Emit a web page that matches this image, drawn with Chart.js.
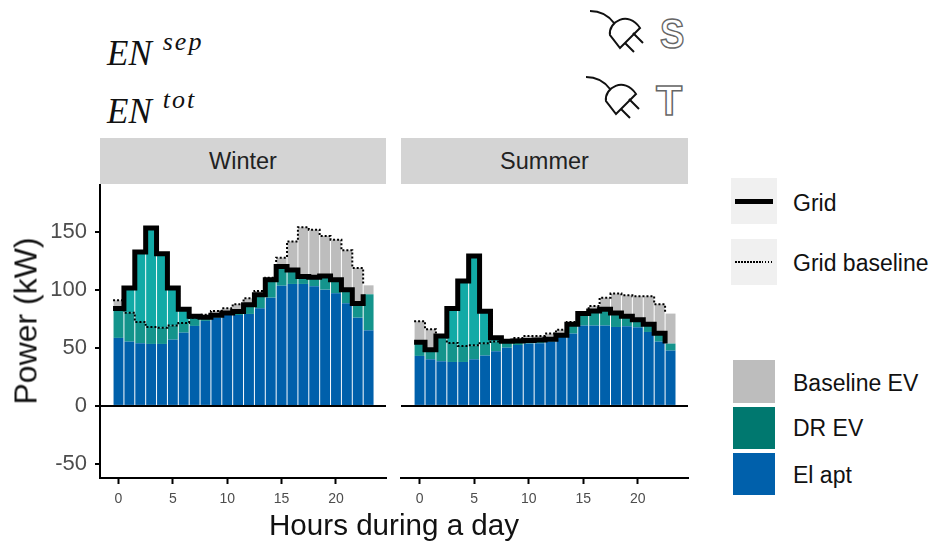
<!DOCTYPE html>
<html>
<head>
<meta charset="utf-8">
<script src="https://cdn.jsdelivr.net/npm/chart.js@4"></script>
<style>
  html, body { margin: 0; padding: 0; background: #fff; }
  #page { position: relative; width: 929px; height: 543px; overflow: hidden; font-family: "Liberation Sans", Arial, sans-serif; color: #111; }
  #page canvas { position: absolute; }
  .strip { position: absolute; top: 138px; height: 46px; line-height: 46px; background: #d4d4d4; text-align: center; font-size: 23.5px; color: #222; }
  .label { position: absolute; white-space: nowrap; font-size: 23px; transform: translateY(-50%); }
  .key { position: absolute; }
  .en { position: absolute; font-family: "Liberation Serif", serif; font-style: italic; font-size: 35px; color: #111; white-space: nowrap; }
  .en sup { font-size: 26px; letter-spacing: 2px; position: relative; top: -7px; vertical-align: top; margin-left: 11px; line-height: 30px; }
  .outline { position: absolute; font-family: "Liberation Sans", sans-serif; font-size: 43px; color: #fff; -webkit-text-stroke: 1.5px #666; font-weight: bold; transform-origin: left top; }
  .ytitle { position: absolute; left: 26px; top: 321px; font-size: 32px; white-space: nowrap; transform: translate(-50%, -50%) rotate(-90deg); }
</style>
</head>
<body>
<div id="page">
  <div class="en" style="left:107px;top:34px">EN<sup>sep</sup></div>
  <div class="en" style="left:107px;top:92px">EN<sup>tot</sup></div>

  <svg style="position:absolute;left:0;top:0" width="929" height="140" fill="none" stroke="#111" stroke-width="2">
    <g id="plug">
      <path d="M590 11 C600 11 608 15 614 23"/>
      <path d="M640 28 L620 48 L610 35 C608 22 628 10 640 28 Z"/>
      <path d="M633 33 L643 43 M625 43 L634 52"/>
    </g>
    <use href="#plug" x="-4" y="66"/>
  </svg>
  <div class="outline" style="left:660px;top:9px;transform:scaleX(.85)">S</div>
  <div class="outline" style="left:656px;top:76px">T</div>

  <div class="strip" style="left:100px;width:286px">Winter</div>
  <div class="strip" style="left:401px;width:287px">Summer</div>

  <canvas id="winterChart" width="390" height="370" style="left:0;top:140px"></canvas>
  <canvas id="summerChart" width="296" height="370" style="left:396px;top:140px"></canvas>

  <div class="ytitle">Power (kW)</div>
  <div class="label" style="left:269px;top:525px;font-size:29.6px">Hours during a day</div>

  <div class="key" style="left:731px;top:178px;width:46px;height:46px;background:#f0f0f0"></div>
  <div class="key" style="left:735px;top:199px;width:38px;height:5px;background:#000"></div>
  <div class="label" style="left:793px;top:203px">Grid</div>
  <div class="key" style="left:731px;top:239px;width:46px;height:46px;background:#f0f0f0"></div>
  <div class="key" style="left:735px;top:261px;width:38px;height:2px;background:repeating-linear-gradient(90deg,#000 0,#000 1.5px,transparent 1.5px,transparent 3px)"></div>
  <div class="label" style="left:793px;top:263px">Grid baseline</div>

  <div class="key" style="left:733px;top:360px;width:42px;height:43px;background:#bdbdbd"></div>
  <div class="label" style="left:793px;top:383px">Baseline EV</div>
  <div class="key" style="left:733px;top:407px;width:42px;height:42px;background:#00786f"></div>
  <div class="label" style="left:793px;top:428px">DR EV</div>
  <div class="key" style="left:733px;top:453px;width:42px;height:42px;background:#0060ab"></div>
  <div class="label" style="left:793px;top:475px">El apt</div>
</div>

<script>
// values, kW per hour
const hours = [0, 1, 2, 3, 4, 5, 6, 7, 8, 9, 10, 11, 12, 13, 14, 15, 16, 17, 18, 19, 20, 21, 22, 23];
const xTicks = [0, 5, 10, 15, 20];
const yTicks = [-50, 0, 50, 100, 150];

const winterElApt = [58.5, 55.3, 53.9, 53.3, 53.3, 57, 63, 68.8, 73.1, 75.9, 78.2, 78.2, 79.1, 84, 93.1, 103.4, 104.9, 104.9, 102.9, 100, 96.8, 88.3, 75.9, 65];
const winterDrEv = [25.2, 24.9, 18.3, 14.6, 14, 12.1, 8.3, 7.1, 3.1, 2, 1.7, 2.9, 8, 11.7, 15.5, 16.4, 12, 6.3, 7.7, 11.7, 11.8, 11.7, 12.1, 31];
const winterDrShift = [0, 21.2, 60.2, 85.1, 63.6, 32.3, 11.8, 1.2, 0, 0, 0, 0, 0, 0, 0, 0, 0, 0, 0, 0, 0, 0, 0, 0];
const winterBaselineEv = [7.1, 0, 0, 0, 0, 0, 0, 0, 2.3, 3.8, 4.1, 6.3, 5.4, 3.2, 1.7, 7.7, 24.6, 42.4, 41, 34.4, 34.4, 33.8, 30.6, 7.7];
const winterGrid = [83.7, 101.4, 132.4, 153, 130.9, 101.4, 83.1, 77.1, 76.2, 77.9, 79.9, 81.1, 87.1, 95.7, 108.6, 119.8, 116.9, 111.2, 110.6, 111.7, 108.6, 100, 88, 96];
const winterGridBaseline = [90.8, 80.2, 72.2, 67.9, 67.3, 69.1, 71.3, 75.9, 78.5, 81.7, 84, 87.4, 92.5, 98.9, 110.3, 127.5, 141.5, 153.6, 151.6, 146.1, 143, 133.8, 118.6, 103.7];

const summerElApt = [43, 40.1, 38.4, 37.8, 37.8, 40.1, 43.3, 47, 50.1, 52.4, 53.6, 53.9, 55.3, 59.9, 62.2, 69.1, 69.1, 69.1, 67.9, 68.5, 67.6, 63.6, 55.3, 47.6];
const summerDrEv = [11.7, 8.3, 20.9, 16.4, 13.8, 12, 10.6, 8.3, 5.5, 3.5, 2.6, 2.8, 2, 0.8, 8, 10.3, 12.6, 14, 12, 8.6, 6.6, 6.6, 7.2, 6];
const summerDrShift = [0, 0, 0.9, 29.5, 55.8, 76.8, 27.5, 3.4, 0, 0, 0, 0, 0, 0, 0, 0, 0, 0, 0, 0, 0, 0, 0, 0];
const summerBaselineEv = [18.1, 17.5, 0, 0, 0, 0, 0, 0, 0.6, 2.6, 4, 3.5, 4.9, 4.9, 2, 1.4, 4.3, 10, 16.7, 18, 20.1, 24.1, 24.9, 25.8];
const summerGrid = [54.7, 48.4, 60.2, 83.7, 107.4, 128.9, 81.4, 58.7, 55.6, 55.9, 56.2, 56.7, 57.3, 60.7, 70.2, 79.4, 81.7, 83.1, 79.9, 77.1, 74.2, 70.2, 62.5, 53.6];
const summerGridBaseline = [72.8, 65.9, 59.3, 54.2, 51.6, 52.1, 53.9, 55.3, 56.2, 58.5, 60.2, 60.2, 62.2, 65.6, 72.2, 80.8, 86, 93.1, 96.6, 95.1, 94.3, 94.3, 87.4, 79.4];

const tickGrey = '#4d4d4d';

function barSet(label, values, color) {
    return {
        type: 'bar',
        label: label,
        data: hours.map((h, i) => ({ x: h, y: values[i] })),
        backgroundColor: color,
        stack: 'power',
        order: 2,
        categoryPercentage: 1,
        barPercentage: 0.91
    };
}

function lineSet(label, values, width, dash) {
    return {
        type: 'line',
        label: label,
        // the step lines start half an hour before each bar centre
        data: hours.map((h, i) => ({ x: h - 0.5, y: values[i] })),
        borderColor: '#000',
        borderWidth: width,
        borderDash: dash,
        stepped: 'before',
        pointRadius: 0,
        fill: false,
        stack: label,
        order: 1,
        borderJoinStyle: 'miter'
    };
}

function makePanel(id, series, showY) {
    return new Chart(document.getElementById(id), {
        data: {
            datasets: [
                lineSet('Grid', series.grid, 5, []),
                lineSet('Grid baseline', series.baseline, 2, [2, 2]),
                barSet('El apt', series.elApt, '#0060ab'),
                barSet('DR EV', series.drEv, '#14948c'),
                barSet('DR EV shifted', series.drShift, '#12aaa6'),
                barSet('Baseline EV', series.baselineEv, '#bdbdbd')
            ]
        },
        options: {
            responsive: false,
            animation: false,
            // top padding is bigger than the tick label overflow so the plot top stays at y=185
            layout: { padding: { top: 45, right: 4, left: 0, bottom: 0 } },
            plugins: { legend: { display: false }, tooltip: { enabled: false } },
            scales: {
                x: {
                    type: 'linear',
                    stacked: true,
                    offset: false,
                    min: -1.7,
                    max: 24.6,
                    afterBuildTicks: function(scale) { scale.ticks = xTicks.map(v => ({ value: v })); },
                    afterFit: function(scale) { scale.height = 32; },
                    border: { display: true, color: '#000', width: 2 },
                    grid: { offset: false, drawOnChartArea: false, tickLength: 6, tickColor: '#000', tickWidth: 2 },
                    ticks: { color: tickGrey, font: { family: 'Liberation Sans', size: 14 }, padding: 7, maxRotation: 0 }
                },
                y: {
                    stacked: true,
                    min: -62,
                    max: 190,
                    afterBuildTicks: function(scale) { scale.ticks = yTicks.map(v => ({ value: v })); },
                    afterFit: function(scale) { scale.width = showY ? 100 : 5; },
                    // same z as the grid, the border needs the grid drawn first
                    border: { display: showY, color: '#000', width: 2, z: 1 },
                    grid: {
                        z: 1,
                        color: ctx => (ctx.tick && ctx.tick.value === 0 ? '#000' : 'rgba(0,0,0,0)'),
                        lineWidth: 2,
                        tickLength: showY ? 5 : 0,
                        tickColor: '#000',
                        tickWidth: 2
                    },
                    ticks: {
                        display: showY,
                        color: tickGrey,
                        font: { family: 'Liberation Sans', size: 22 },
                        padding: 8
                    }
                }
            }
        }
    });
}

makePanel('winterChart', {
    elApt: winterElApt, drEv: winterDrEv, drShift: winterDrShift,
    baselineEv: winterBaselineEv, grid: winterGrid, baseline: winterGridBaseline
}, true);

makePanel('summerChart', {
    elApt: summerElApt, drEv: summerDrEv, drShift: summerDrShift,
    baselineEv: summerBaselineEv, grid: summerGrid, baseline: summerGridBaseline
}, false);
</script>
</body>
</html>
